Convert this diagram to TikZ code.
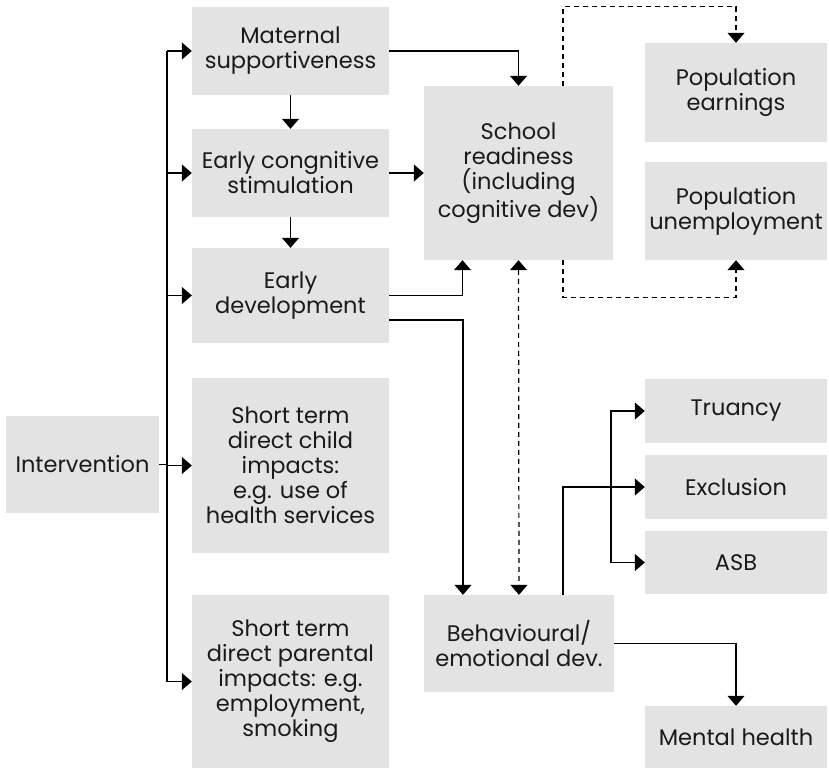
\documentclass[tikz,border=0pt]{standalone}
\usepackage{fontspec}
\setmainfont{Poppins}
\usepackage{xcolor}
\usepackage{tikz}
\usetikzlibrary{arrows.meta}

\definecolor{boxgray}{HTML}{E3E3E3}
\definecolor{inkblack}{HTML}{1A1A1A}

\begin{document}
\begin{tikzpicture}[x=1pt, y=-1pt,
    box/.style={fill=boxgray, inner sep=0pt, align=center, text=inkblack,
        font=\fontsize{22.5}{25}\selectfont},
    link/.style={-{Triangle[length=10pt, width=17pt]}, line width=1.2pt},
    dlink/.style={link, dash pattern=on 5pt off 4pt}]
    \useasboundingbox (0,0) rectangle (829,768);

    % left column
    \node[box, minimum width=153pt, minimum height=97pt] (interv) at (82.5,464.5) {Intervention};
    \node[box, minimum width=197pt, minimum height=88pt] (matsup) at (290.5,51) {Maternal\\supportiveness};
    \node[box, minimum width=197pt, minimum height=88pt] (earlycog) at (290.5,173) {Early congnitive\\stimulation};
    \node[box, minimum width=197pt, minimum height=95pt] (earlydev) at (290.5,295.5) {Early\\development};
    \node[box, minimum width=197pt, minimum height=175pt] (shortchild) at (290.5,465.5) {Short term\\direct child\\impacts:\\e.g. use of\\health services};
    \node[box, minimum width=197pt, minimum height=173pt] (shortpar) at (290.5,681.5) {Short term\\direct parental\\impacts: e.g.\\employment,\\smoking};

    % middle column
    \node[box, minimum width=189pt, minimum height=174pt] (school) at (518.5,173) {School\\readiness\\(including\\cognitive dev)};
    \node[box, minimum width=190pt, minimum height=97pt] (behav) at (519,643.5) {Behavioural/\\emotional dev.};

    % right column
    \node[box, minimum width=182pt, minimum height=99pt] (popearn) at (736,92.5) {Population\\earnings};
    \node[box, minimum width=182pt, minimum height=98pt] (popunemp) at (736,211) {Population\\unemployment};
    \node[box, minimum width=182pt, minimum height=64pt] (truancy) at (736,411) {Truancy};
    \node[box, minimum width=182pt, minimum height=64pt] (exclusion) at (736,487) {Exclusion};
    \node[box, minimum width=182pt, minimum height=63pt] (asb) at (736,562.5) {ASB};
    \node[box, minimum width=182pt, minimum height=62pt] (mental) at (736,737) {Mental health};

    \coordinate (bus) at (167,0);
    \coordinate (brk) at (611,487);

    % intervention branches
    \draw[line width=1.2pt] (matsup.west -| bus) -- (shortpar.west -| bus);
    \draw[line width=1.2pt] (interv.east) -- (interv.east -| bus);
    \foreach \b in {matsup, earlycog, earlydev, shortchild, shortpar}
        \draw[link] (\b.west -| bus) -- (\b.west);

    % early years
    \draw[link] (matsup.south) -- (earlycog.north);
    \draw[link] (earlycog.south) -- (earlydev.north);
    \draw[link] (matsup.east) -| (school.north);
    \draw[link] (earlycog.east) -- (earlycog.east -| school.west);
    \draw[link] (earlydev.east) -| ([xshift=-56pt]school.south);
    \draw[link] ([yshift=-24.5pt]earlydev.east) -| ([xshift=-56pt]behav.north);
    \draw[dlink, {Triangle[length=10pt, width=17pt]}-{Triangle[length=10pt, width=17pt]}] (school.south) -- (behav.north);

    % later outcomes
    \draw[dlink] ([xshift=44.5pt]school.north) -- ++(0,-79) -| (popearn.north);
    \draw[dlink] ([xshift=44.5pt]school.south) -- ++(0,37) -| (popunemp.south);
    \draw[link] ([xshift=44pt]behav.north) |- (exclusion.west);
    \draw[link] (brk) |- (truancy.west);
    \draw[link] (brk) |- (asb.west);
    \draw[link] (behav.east) -| (mental.north);

\end{tikzpicture}
\end{document}
